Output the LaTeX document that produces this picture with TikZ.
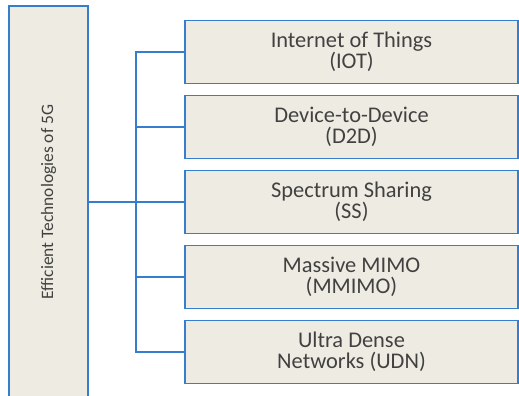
\documentclass[tikz,border=0pt]{standalone}
\usepackage{fontspec}
\setmainfont{Carlito}
\usepackage{tikz}

\definecolor{techblue}{RGB}{55,125,205}
\definecolor{techfill}{RGB}{238,235,226}
\definecolor{techtext}{RGB}{65,65,65}

\begin{document}
\begin{tikzpicture}[x=1bp, y=-1bp,
    techbox/.style={draw=techblue, fill=techfill, line width=1.8bp, align=center,
        text=techtext, font=\fontsize{22.5}{21}\selectfont,
        minimum width=333bp, minimum height=63bp, inner sep=0pt},
    link/.style={draw=techblue, line width=1.8bp}]
    \clip (0,0) rectangle (519,395);
    %\draw (0,0) rectangle (519,395);
    \node[techbox, minimum width=79bp, minimum height=392bp, font=\fontsize{17.5}{18}\selectfont]
        (tech) at (48.5,202) {\rotatebox{90}{Efficient Technologies of 5G}};
    \node[techbox] (iot) at (351.5,52) {Internet of Things\\(IOT)};
    \node[techbox] (d2d) at (351.5,127) {Device-to-Device\\(D2D)};
    \node[techbox] (ss) at (351.5,202) {Spectrum Sharing\\(SS)};
    \node[techbox] (mmimo) at (351.5,277) {Massive MIMO\\(MMIMO)};
    \node[techbox] (udn) at (351.5,352) {Ultra Dense\\Networks (UDN)};
    \coordinate (bus) at (136,202);
    \draw[link] (tech.east) -- (bus);
    \draw[link] (iot.west) -| (bus) |- (udn.west);
    \draw[link] (d2d.west) -- (d2d.west -| bus);
    \draw[link] (ss.west) -- (bus);
    \draw[link] (mmimo.west) -- (mmimo.west -| bus);
\end{tikzpicture}
\end{document}
